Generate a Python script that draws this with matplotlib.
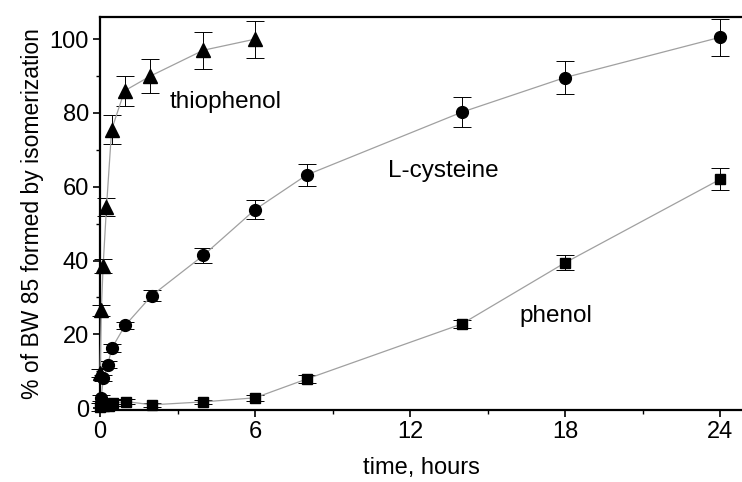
import matplotlib
matplotlib.use("Agg")
import matplotlib.pyplot as plt
from matplotlib.ticker import MultipleLocator

plt.rcParams['font.family'] = ['Liberation Sans', 'DejaVu Sans']

# thiophenol
t_thio = [0, 0.05, 0.12, 0.25, 0.45, 0.95, 1.95, 4, 6]
y_thio = [9.5, 26.5, 38.5, 54.5, 75.5, 86, 90, 97, 100]
e_thio = [1.0, 1.5, 2.0, 2.5, 4, 4, 4.5, 5, 5]

# L-cysteine
t_cys = [0.04, 0.13, 0.3, 0.46, 0.97, 2, 4, 6, 8, 14, 18, 24]
y_cys = [2.7, 8.1, 11.8, 16.3, 22.4, 30.5, 41.4, 53.8, 63.2, 80.2, 89.6, 100.5]
e_cys = [0.8, 0.8, 1.0, 1.0, 1.0, 1.5, 2.0, 2.6, 3.0, 4.0, 4.5, 5.0]

# phenol
t_phe = [0, 0.17, 0.33, 0.5, 1, 2, 4, 6, 8, 14, 18, 24]
y_phe = [0.3, 0.5, 0.6, 1.3, 1.8, 0.9, 1.7, 2.8, 7.9, 22.8, 39.4, 62.0]
e_phe = [1.0, 1.0, 1.0, 0.8, 0.8, 0.6, 0.6, 0.8, 1.0, 1.0, 2.0, 3.0]

fig = plt.figure(figsize=(7.42, 4.82), dpi=100)
ax = fig.add_axes([0.1348, 0.1494, 0.8652, 0.8153])

line_kw = dict(color='#a0a0a0', lw=0.9, ecolor='black', elinewidth=0.7,
               capthick=0.7, capsize=6.5, clip_on=False, zorder=3)
ax.errorbar(t_thio, y_thio, yerr=e_thio, marker='^', ms=10, mfc='black',
            mec='black', **line_kw)
ax.errorbar(t_cys, y_cys, yerr=e_cys, marker='o', ms=8.5, mfc='black',
            mec='black', **line_kw)
ax.errorbar(t_phe, y_phe, yerr=e_phe, marker='s', ms=7, mfc='black',
            mec='black', **line_kw)

ax.text(2.7, 83, 'thiophenol', fontsize=17.5, va='center', ha='left')
ax.text(11.15, 64.3, 'L-cysteine', fontsize=17.5, va='center', ha='left')
ax.text(16.25, 25, 'phenol', fontsize=17.5, va='center', ha='left')

ax.set_xlim(0, 24.85)
ax.set_ylim(-0.5, 106)
ax.xaxis.set_major_locator(MultipleLocator(6))
ax.xaxis.set_minor_locator(MultipleLocator(3))
ax.yaxis.set_major_locator(MultipleLocator(20))
ax.yaxis.set_minor_locator(MultipleLocator(10))

ax.spines['right'].set_visible(False)
for s in ('left', 'top', 'bottom'):
    ax.spines[s].set_linewidth(1.6)
ax.tick_params(which='major', direction='out', length=5, width=1.2,
               labelsize=17, pad=3, top=False, right=False)
ax.tick_params(which='minor', direction='out', length=3, width=1.0,
               top=False, right=False)

ax.set_xlabel('time, hours', fontsize=17, labelpad=10)
ax.set_ylabel('% of BW 85 formed by isomerization', fontsize=16.5, labelpad=4)

fig.savefig('out.png', dpi=100)
